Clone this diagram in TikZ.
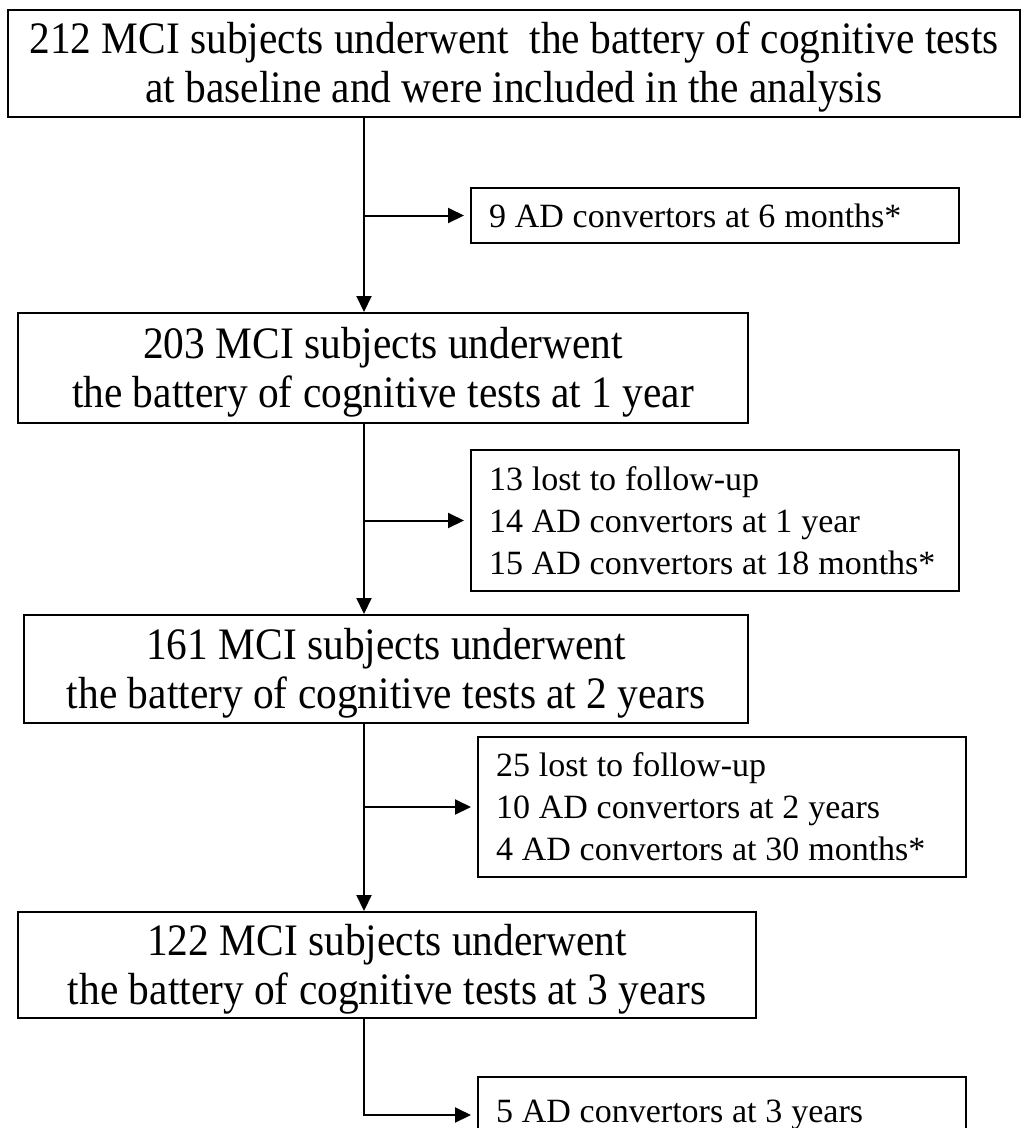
\documentclass[tikz,border=0pt]{standalone}
\usepackage{fontspec}
\setmainfont{Liberation Serif}
\newfontfamily\tallserif[FakeStretch=0.92]{Liberation Serif}
\usetikzlibrary{arrows.meta}

\begin{document}
\begin{tikzpicture}[x=1pt, y=-1pt,
    mainBox/.style={rectangle, draw=black, line width=2pt, align=center, inner sep=0pt, text height=84pt, text depth=6pt, font=\tallserif\fontsize{45}{49}\selectfont},
    sideBox/.style={rectangle, draw=black, line width=2pt, anchor=west, align=left, text width=452pt, inner xsep=18pt, inner ysep=0pt, font=\fontsize{34}{42}\selectfont, execute at begin node={\spaceskip=0.26em\relax}},
    arrow/.style={line width=2pt, -{Triangle[length=16pt,width=15pt]}}
]
\useasboundingbox (0,0) rectangle (1028,1128);
\fill[white] (0,0) rectangle (1028,1128);

% Follow-up visits
\node[mainBox, minimum width=1012pt, minimum height=107pt] (baseline) at (514,63.5) {212 MCI subjects underwent~ the battery of cognitive tests\\at baseline and were included in the analysis};
\node[mainBox, minimum width=730pt, minimum height=110pt] (year1) at (383,368) {203 MCI subjects underwent\\the battery of cognitive tests at 1 year};
\node[mainBox, minimum width=724pt, minimum height=108pt] (year2) at (386,669) {161 MCI subjects underwent\\the battery of cognitive tests at 2 years};
\node[mainBox, minimum width=738pt, minimum height=106pt] (year3) at (387,965) {122 MCI subjects underwent\\the battery of cognitive tests at 3 years};

% Drop-outs and convertors
\node[sideBox, minimum height=55pt] (conv1) at (470,215.5) {9 AD convertors at 6 months*};
\node[sideBox, minimum height=141pt] (conv2) at (470,520.5) {13 lost to follow-up\\14 AD convertors at 1 year\\15 AD convertors at 18 months*};
\node[sideBox, minimum height=140pt] (conv3) at (477,807) {25 lost to follow-up\\10 AD convertors at 2 years\\4 AD convertors at 30 months*};
\node[sideBox, minimum height=76pt] (conv4) at (477,1115) {5 AD convertors at 3 years};

% Vertical flow
\coordinate (trunk) at (364,0);
\draw[arrow] (baseline.south -| trunk) -- (year1.north -| trunk);
\draw[arrow] (year1.south -| trunk) -- (year2.north -| trunk);
\draw[arrow] (year2.south -| trunk) -- (year3.north -| trunk);

% Side branches
\draw[arrow, shorten >=6pt] (trunk |- conv1.west) -- (conv1.west);
\draw[arrow, shorten >=6pt] (trunk |- conv2.west) -- (conv2.west);
\draw[arrow, shorten >=6pt] (trunk |- conv3.west) -- (conv3.west);
\draw[arrow, shorten >=6pt] (year3.south -| trunk) |- (conv4.west);

\end{tikzpicture}
\end{document}
